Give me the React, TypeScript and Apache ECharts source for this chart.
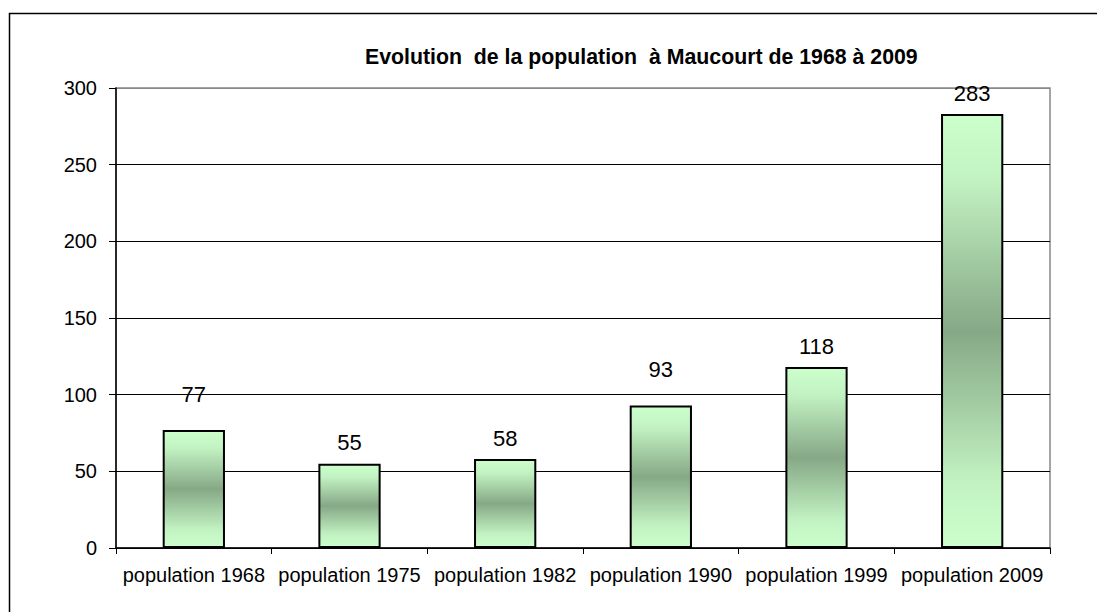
import React, { useEffect, useRef } from "react";
import * as echarts from "echarts";

const titleText = "Evolution  de la population  à Maucourt de 1968 à 2009";
const categories = [
  "population 1968",
  "population 1975",
  "population 1982",
  "population 1990",
  "population 1999",
  "population 2009",
];
const populationValues = [77, 55, 58, 93, 118, 283];
const yMin = 0;
const yMax = 300;
const yInterval = 50;

const FONT = "'Liberation Sans', Arial, sans-serif";

// labels that were moved up in the original chart (by category)
const raisedLabels: Record<string, number> = {
  "population 1968": 14,
  "population 1990": 15,
};

export default function App() {
  const ref = useRef<HTMLDivElement>(null);

  useEffect(() => {
    if (!ref.current) return;
    const chart = echarts.init(ref.current, undefined, { renderer: "svg" });
    const barGradient = new echarts.graphic.LinearGradient(0, 0, 0, 1, [
      { offset: 0, color: "#ccffcc" },
      { offset: 0.15, color: "#c2f2c2" },
      { offset: 0.5, color: "#86a886" },
      { offset: 0.85, color: "#c2f2c2" },
      { offset: 1, color: "#ccffcc" },
    ]);
    const seriesData = populationValues.map((v, i) => {
      const lift = raisedLabels[categories[i]] || 0;
      return lift
        ? { value: v, label: { offset: [0, -lift] } }
        : { value: v };
    });
    chart.setOption({
      animation: false,
      backgroundColor: "#ffffff",
      title: {
        text: titleText,
        left: 360,
        top: 41,
        textStyle: {
          fontFamily: FONT,
          fontSize: 21.3,
          fontWeight: "bold",
          color: "#000",
        },
      },
      graphic: [
        {
          type: "rect",
          shape: { x: 9.5, y: 13.5, width: 1300, height: 800 },
          style: { fill: "none", stroke: "#000", lineWidth: 1.5 },
          silent: true,
        },
      ],
      grid: {
        left: 116,
        top: 88,
        right: 47,
        bottom: 64,
        show: true,
        borderColor: "#888888",
        borderWidth: 1.5,
        backgroundColor: "transparent",
      },
      xAxis: {
        type: "category",
        data: categories,
        boundaryGap: true,
        axisLine: { show: true, lineStyle: { color: "#000", width: 1.5 } },
        axisTick: {
          show: true,
          alignWithLabel: false,
          length: 6,
          lineStyle: { color: "#000", width: 1 },
        },
        axisLabel: {
          interval: 0,
          margin: 17,
          color: "#000",
          fontFamily: FONT,
          fontSize: 20,
        },
        splitLine: { show: false },
      },
      yAxis: {
        type: "value",
        min: yMin,
        max: yMax,
        interval: yInterval,
        axisLine: { show: true, lineStyle: { color: "#000", width: 1.5 } },
        axisTick: {
          show: true,
          length: 7,
          lineStyle: { color: "#000", width: 1 },
        },
        axisLabel: {
          margin: 19,
          color: "#000",
          fontFamily: FONT,
          fontSize: 20,
        },
        splitLine: {
          show: true,
          lineStyle: {
            color: ["#000", "#000", "#000", "#000", "#000", "#000", "#888888"],
            width: 1,
          },
        },
      },
      series: [
        {
          type: "bar",
          data: seriesData,
          barWidth: "40%",
          itemStyle: {
            color: barGradient,
            borderColor: "#000",
            borderWidth: 2,
          },
          label: {
            show: true,
            position: "top",
            distance: 10,
            color: "#000",
            fontFamily: FONT,
            fontSize: 22,
          },
        },
      ],
    });
    return () => chart.dispose();
  }, []);

  return (
    <div
      ref={ref}
      style={{ position: "fixed", left: 0, top: 0, width: 1097, height: 612 }}
    />
  );
}
